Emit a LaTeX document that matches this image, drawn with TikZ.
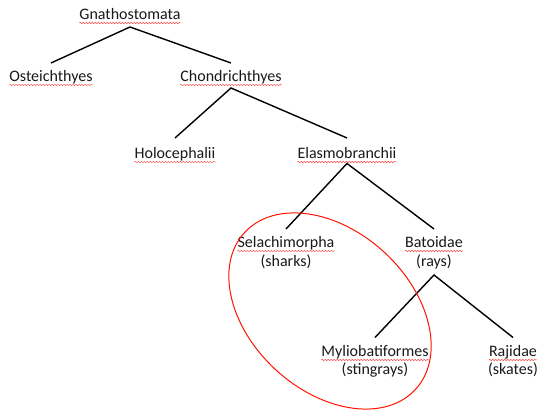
\documentclass[tikz,border=0pt]{standalone}
\usepackage{fontspec}
\setmainfont{Carlito}
\usetikzlibrary{decorations.pathmorphing}
\begin{document}
\begin{tikzpicture}[x=1pt,y=1pt,
  taxon/.style={anchor=base,inner sep=0pt,font=\fontsize{16}{19}\selectfont,text=black!90},
  branch/.style={draw=black,line width=1.4pt},
  squig/.style={draw=red!70,line width=0.5pt,decorate,decoration={snake,segment length=3pt,amplitude=0.7pt}},
  clade/.style={draw=red!85!orange,line width=1pt}]
\useasboundingbox (0,0) rectangle (539,-411);
% taxa
\node[taxon] (g) at (130,-20) {Gnathostomata};
\node[taxon] (o) at (51,-82) {Osteichthyes};
\node[taxon] (c) at (231,-82) {Chondrichthyes};
\node[taxon] (h) at (175,-159) {Holocephalii};
\node[taxon] (e) at (347,-159) {Elasmobranchii};
\node[taxon] (s) at (286,-248) {Selachimorpha};
\node[taxon] (sc) at (286,-267) {(sharks)};
\node[taxon] (b) at (434,-248) {Batoidae};
\node[taxon] (bc) at (434,-267) {(rays)};
\node[taxon] (m) at (375,-357) {Myliobatiformes};
\node[taxon] (mc) at (375,-375) {(stingrays)};
\node[taxon] (r) at (513,-357) {Rajidae};
\node[taxon] (rc) at (513,-375) {(skates)};
% squiggly underlines
\foreach \n in {g,o,c,h,e,s,b,m,r}{
  \draw[squig] ([yshift=-3pt]\n.base west) -- ([yshift=-3pt]\n.base east);
}
% branches
\draw[branch] ([yshift=19pt]o.base) -- ([yshift=-7pt]g.base) -- ([yshift=19pt]c.base);
\draw[branch] ([yshift=21pt]h.base) -- ([yshift=-6pt]c.base) -- ([yshift=21pt]e.base);
\draw[branch] ([yshift=19pt]s.base) -- ([yshift=-4.5pt]e.base) -- ([yshift=19pt]b.base);
\draw[branch] ([yshift=19.5pt]m.base) -- ([yshift=-8pt]bc.base) -- ([yshift=19.5pt]r.base);
% clade ellipse
\draw[clade,rotate around={-42.5:(330,-311)}] (330,-311) ellipse [x radius=116, y radius=80];
\end{tikzpicture}
\end{document}
